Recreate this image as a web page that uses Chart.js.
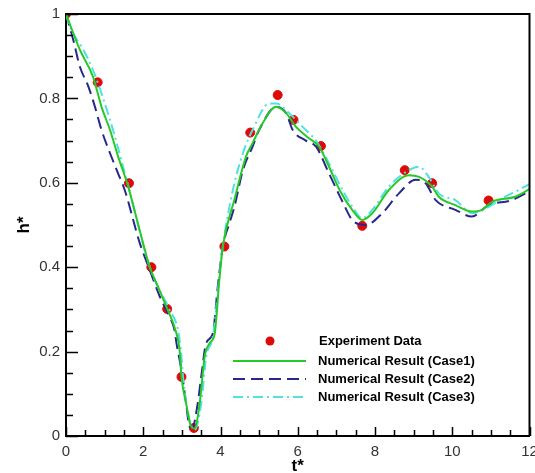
<!DOCTYPE html>
<html>
<head>
<meta charset="utf-8">
<script src="https://cdn.jsdelivr.net/npm/chart.js@4/dist/chart.umd.min.js"></script>
<style>
  html, body { margin: 0; padding: 0; background: #fff; }
  #wrap { width: 535px; height: 473px; }
</style>
</head>
<body>
<div id="wrap"><canvas id="canvasHeight" width="535" height="473"></canvas></div>
<script>
// experiment points
var expT = [0, 0.82, 1.63, 2.21, 2.62, 2.99, 3.31, 4.10, 4.77, 5.48, 5.89, 6.60, 7.67, 8.77, 9.48, 10.94];
var expH = [1.0, 0.838, 0.599, 0.40, 0.301, 0.14, 0.019, 0.449, 0.719, 0.808, 0.749, 0.687, 0.498, 0.630, 0.599, 0.558];

// numerical result, case 1
var case1T = [0, 0.36, 0.70, 0.92, 1.14, 1.35, 1.61, 1.90, 2.17, 2.40, 2.60, 2.86, 2.94, 2.99, 3.11, 3.24, 3.33, 3.46, 3.59, 3.72, 3.85, 3.97, 4.06, 4.36, 4.66, 4.83, 5.09, 5.44, 5.70, 5.95, 6.30, 6.55, 6.81, 7.10, 7.41, 7.67, 7.93, 8.36, 8.88, 9.14, 9.48, 9.65, 10.08, 10.51, 10.77, 11.03, 11.63, 12];
var case1H = [1.0, 0.915, 0.851, 0.78, 0.725, 0.662, 0.591, 0.49, 0.40, 0.35, 0.306, 0.243, 0.204, 0.14, 0.077, 0.022, 0.018, 0.077, 0.188, 0.22, 0.243, 0.37, 0.449, 0.56, 0.662, 0.694, 0.741, 0.780, 0.765, 0.733, 0.705, 0.686, 0.638, 0.58, 0.536, 0.512, 0.528, 0.583, 0.618, 0.614, 0.591, 0.567, 0.547, 0.532, 0.536, 0.555, 0.567, 0.585];

// numerical result, case 2
var case2T = [0, 0.19, 0.36, 0.58, 0.75, 0.92, 1.14, 1.35, 1.52, 1.91, 2.17, 2.43, 2.68, 2.81, 2.86, 2.99, 3.11, 3.20, 3.27, 3.41, 3.50, 3.63, 3.80, 3.93, 4.06, 4.23, 4.36, 4.58, 4.83, 5.00, 5.44, 5.70, 5.87, 6.21, 6.47, 6.81, 7.16, 7.41, 7.76, 8.19, 8.62, 9.05, 9.31, 9.57, 10.08, 10.51, 10.94, 11.54, 12];
var case2H = [1.0, 0.938, 0.875, 0.828, 0.78, 0.725, 0.67, 0.622, 0.583, 0.457, 0.393, 0.33, 0.283, 0.251, 0.22, 0.156, 0.077, 0.022, 0.02, 0.077, 0.14, 0.22, 0.243, 0.354, 0.449, 0.504, 0.543, 0.63, 0.686, 0.725, 0.78, 0.765, 0.725, 0.70, 0.686, 0.622, 0.555, 0.512, 0.50, 0.528, 0.575, 0.607, 0.599, 0.559, 0.536, 0.52, 0.547, 0.559, 0.58];

// numerical result, case 3
var case3T = [0, 0.10, 0.45, 0.70, 1.14, 1.57, 2.17, 2.68, 2.90, 2.99, 3.03, 3.20, 3.33, 3.50, 3.63, 3.80, 3.97, 4.06, 4.32, 4.58, 4.83, 5.26, 5.44, 5.78, 6.12, 6.47, 6.81, 7.16, 7.41, 7.67, 7.93, 8.36, 8.88, 9.14, 9.39, 9.65, 10.08, 10.51, 10.86, 11.37, 11.72, 12];
var case3H = [1.0, 0.97, 0.915, 0.867, 0.749, 0.607, 0.40, 0.299, 0.251, 0.188, 0.14, 0.038, 0.014, 0.077, 0.188, 0.235, 0.377, 0.449, 0.583, 0.67, 0.725, 0.788, 0.788, 0.765, 0.733, 0.70, 0.646, 0.583, 0.544, 0.516, 0.536, 0.591, 0.630, 0.638, 0.614, 0.575, 0.559, 0.528, 0.539, 0.567, 0.583, 0.597];

var xTickLabels = ['0', '2', '4', '6', '8', '10', '12'];
var yTickLabels = ['0', '0.2', '0.4', '0.6', '0.8', '1'];
var legendLabels = ['Experiment Data', 'Numerical Result (Case1)', 'Numerical Result (Case2)', 'Numerical Result (Case3)'];

function pts(t, h) {
  var out = [];
  for (var i in t) out.push({x: t[i], y: h[i]});
  return out;
}

// inward major/minor ticks, box border and the in-plot legend
var frame = {
  id: 'frame',
  afterDatasetsDraw: function(chart) {
    var c = chart.ctx, a = chart.chartArea;
    var xs = chart.scales.x, ys = chart.scales.y;
    c.save();
    c.strokeStyle = '#000';
    c.lineWidth = 2;
    c.beginPath();
    c.moveTo(a.left, a.top); c.lineTo(a.right, a.top); c.lineTo(a.right, a.bottom);
    c.stroke();
    c.lineWidth = 1.5;
    c.beginPath();
    for (var v = 0; v <= 12.001; v += 0.5) {
      var px = Math.round(xs.getPixelForValue(v)) + 0.5;
      var len = (Math.abs(v / 2 - Math.round(v / 2)) < 1e-6) ? 9 : 6;
      c.moveTo(px, a.bottom); c.lineTo(px, a.bottom - len);
    }
    for (var w = 0; w <= 1.0001; w += 0.05) {
      var py = Math.round(ys.getPixelForValue(w)) + 0.5;
      var major = Math.abs(w * 5 - Math.round(w * 5)) < 1e-6;
      c.moveTo(a.left, py); c.lineTo(a.left + (major ? 12 : 7), py);
    }
    c.stroke();
    c.restore();
  },
  afterDraw: function(chart) {
    var c = chart.ctx;
    var ds = chart.data.datasets;
    var x0 = 233, x1 = 306, tx = 318;
    var rows = [341, 361, 379, 397];
    c.save();
    c.font = 'bold 13px "Liberation Sans", Arial, sans-serif';
    c.fillStyle = '#000';
    c.textBaseline = 'middle';
    for (var i = 0; i < rows.length; i++) {
      var d = ds[i];
      if (i === 0) {
        c.beginPath();
        c.arc(270, rows[i], 4.5, 0, Math.PI * 2);
        c.fillStyle = d.backgroundColor;
        c.fill();
        c.fillStyle = '#000';
      } else {
        c.beginPath();
        c.strokeStyle = d.borderColor;
        c.lineWidth = d.borderWidth;
        c.setLineDash(d.borderDash || []);
        c.moveTo(x0, rows[i]); c.lineTo(x1, rows[i]);
        c.stroke();
        c.setLineDash([]);
      }
      c.fillText(legendLabels[i], i === 0 ? tx + 1 : tx, rows[i]);
    }
    c.restore();
  }
};

var ctx = document.getElementById('canvasHeight');

var chart = new Chart(ctx, {
  type: 'scatter',
  data: {
    datasets: [
      {
        label: legendLabels[0],
        data: pts(expT, expH),
        backgroundColor: 'rgb(222, 10, 10)',
        borderColor: 'rgb(222, 10, 10)',
        pointRadius: 4.5,
        showLine: false,
        order: 10
      },
      {
        label: legendLabels[1],
        data: pts(case1T, case1H),
        borderColor: 'rgb(40, 200, 40)',
        borderWidth: 2,
        pointRadius: 0,
        showLine: true,
        cubicInterpolationMode: 'monotone',
        order: 1
      },
      {
        label: legendLabels[2],
        data: pts(case2T, case2H),
        borderColor: 'rgb(40, 40, 140)',
        borderWidth: 2,
        borderDash: [12, 6],
        pointRadius: 0,
        showLine: true,
        cubicInterpolationMode: 'monotone',
        order: 3
      },
      {
        label: legendLabels[3],
        data: pts(case3T, case3H),
        borderColor: 'rgb(80, 225, 225)',
        borderWidth: 2,
        borderDash: [10, 4, 2, 4],
        pointRadius: 0,
        showLine: true,
        cubicInterpolationMode: 'monotone',
        order: 2
      }
    ]
  },
  options: {
    responsive: false,
    animation: false,
    layout: { padding: { top: 14, right: 4, left: 0, bottom: 0 } },
    plugins: { legend: { display: false }, tooltip: { enabled: false } },
    scales: {
      x: {
        type: 'linear', min: 0, max: 12,
        grid: { display: false, drawTicks: false },
        border: { display: true, color: '#000', width: 2 },
        ticks: {
          stepSize: 2, padding: 7, maxRotation: 0, autoSkip: false,
          color: '#333', font: { family: '"Liberation Sans", Arial, sans-serif', size: 15 },
          callback: function(v) { return xTickLabels[Math.round(v / 2)]; }
        },
        title: {
          display: true, text: 't*', color: '#000', padding: { top: -4, bottom: -4 },
          font: { family: '"Liberation Sans", Arial, sans-serif', size: 17, weight: 'bold' }
        },
        afterFit: function(s) { s.height = 37; s.paddingLeft = 0; s.paddingRight = 0; }
      },
      y: {
        type: 'linear', min: 0, max: 1,
        grid: { display: false, drawTicks: false },
        border: { display: true, color: '#000', width: 2 },
        ticks: {
          stepSize: 0.2, padding: 6,
          color: '#333', font: { family: '"Liberation Sans", Arial, sans-serif', size: 15 },
          callback: function(v) { return yTickLabels[Math.round(v * 5)]; }
        },
        title: {
          display: true, text: 'h*', color: '#000', padding: { top: 14, bottom: 0 },
          font: { family: '"Liberation Sans", Arial, sans-serif', size: 17, weight: 'bold' }
        },
        afterFit: function(s) { s.width = 66; s.paddingTop = 0; s.paddingBottom = 0; }
      }
    }
  },
  plugins: [frame]
});
</script>
</body>
</html>
